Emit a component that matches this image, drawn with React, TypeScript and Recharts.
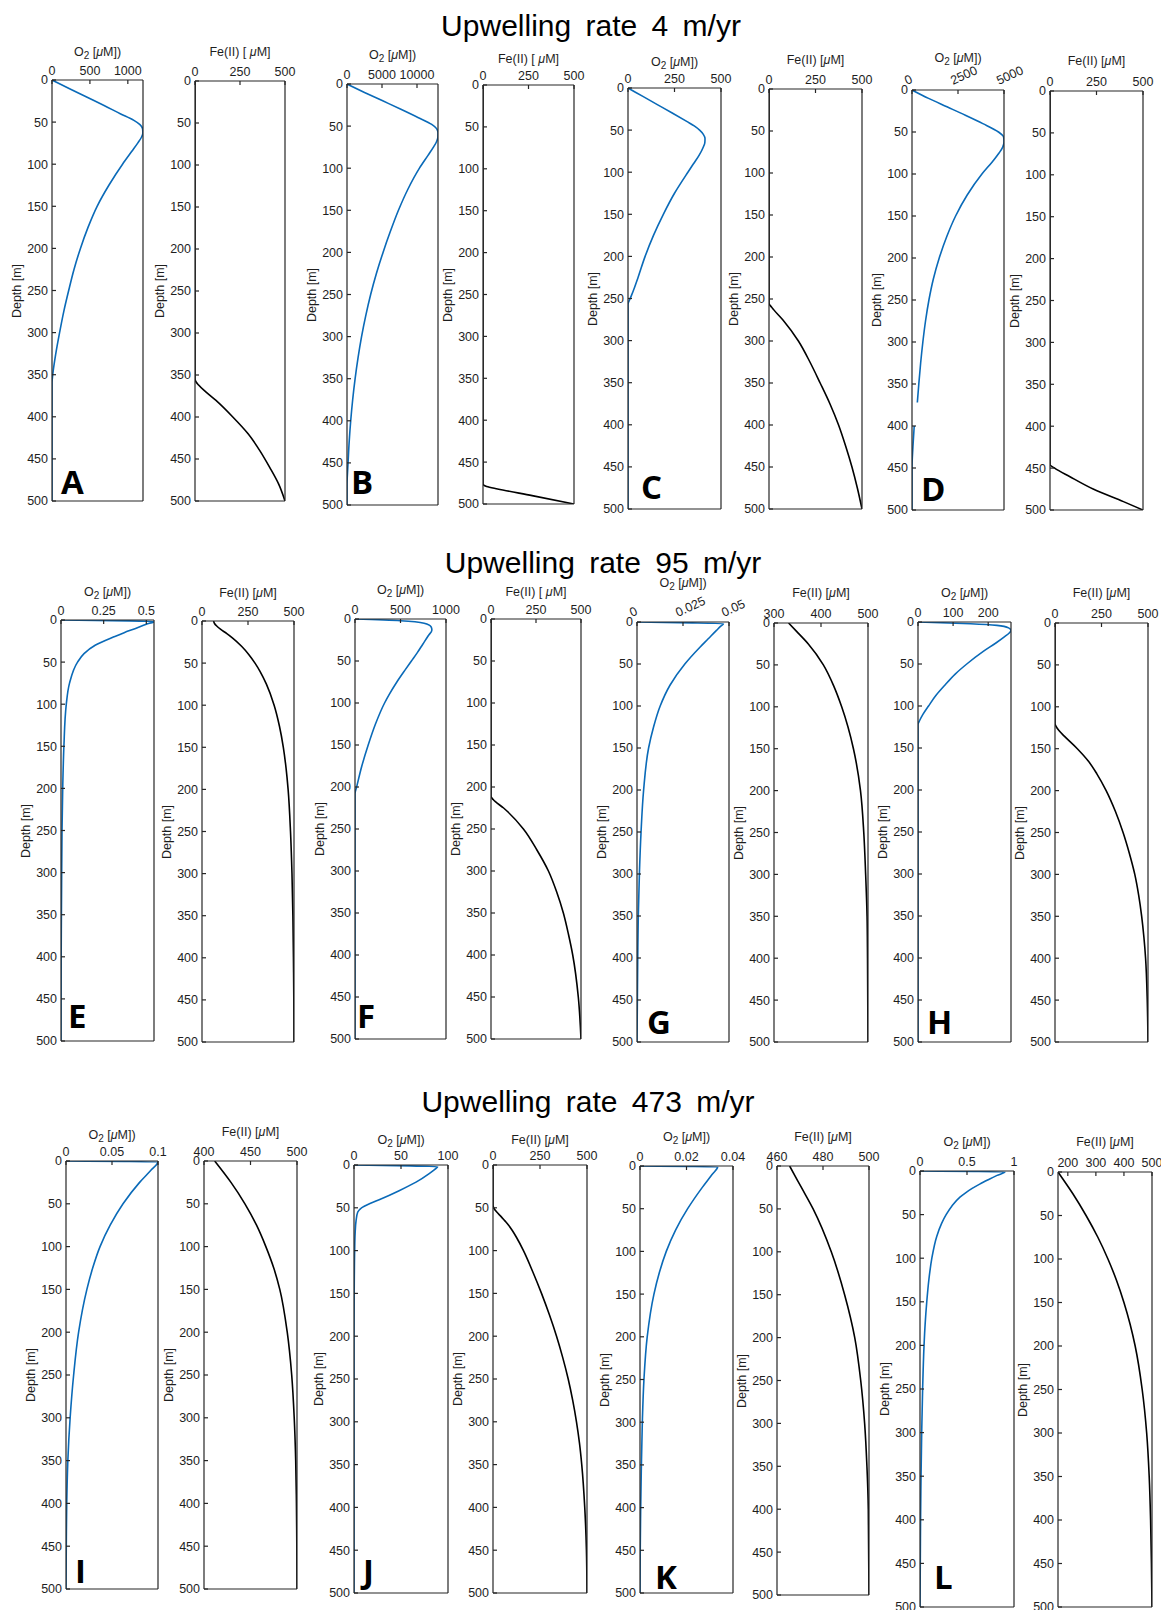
import React from "react";
import { LineChart, Line, XAxis, YAxis } from "recharts";

// ---------- data: [depth (m), concentration (µM)] ----------
const A_O2: [number, number][] = [[0,0],[10,225],[20,450],[30,680],[40,900],[48,1080],[53,1160],[58,1195],[63,1198],[68,1180],[75,1130],[85,1050],[100,930],[125,750],[150,595],[175,475],[200,375],[225,290],[250,220],[275,155],[300,100],[325,50],[350,10],[360,0],[500,0]];
const A_FE: [number, number][] = [[0,0],[355,0],[362,20],[370,60],[380,115],[400,210],[420,295],[440,360],[460,415],[480,465],[500,500]];
const B_O2: [number, number][] = [[0,0],[10,2500],[20,5100],[30,7700],[40,10200],[48,12100],[53,12800],[58,13000],[63,12990],[68,12820],[75,12350],[85,11550],[100,10350],[125,8700],[150,7350],[175,6200],[200,5150],[225,4200],[250,3380],[275,2680],[300,2080],[325,1580],[350,1160],[375,810],[400,530],[425,310],[450,150],[465,50],[475,0],[500,0]];
const B_FE: [number, number][] = [[0,0],[476,0],[479,20],[482,80],[490,270],[500,500]];
const C_O2: [number, number][] = [[0,0],[10,80],[20,160],[30,240],[40,318],[45,356],[50,385],[55,405],[60,414],[65,413],[70,405],[80,382],[90,352],[100,322],[125,250],[150,190],[175,137],[200,92],[225,54],[240,30],[250,12],[257,0],[500,0]];
const C_FE: [number, number][] = [[0,0],[255,0],[260,15],[275,75],[300,158],[325,220],[350,275],[375,328],[400,374],[425,412],[450,446],[475,475],[500,500]];
const D_O2: [number, number | null][] = [[0,0],[10,900],[20,1900],[30,2900],[40,3850],[50,4700],[56,4980],[62,5000],[68,4930],[75,4730],[85,4380],[100,3800],[125,3000],[150,2370],[175,1880],[200,1480],[225,1160],[250,920],[275,735],[300,590],[325,470],[350,370],[372,290],[386,null],[400,120],[425,50],[450,0],[500,0]];
const D_FE: [number, number][] = [[0,0],[446,0],[450,25],[460,105],[475,232],[490,395],[500,500]];

const E_O2: [number, number][] = [[0,0],[1,0.4],[2,0.545],[5,0.5],[10,0.437],[15,0.37],[20,0.31],[30,0.2],[40,0.135],[50,0.097],[75,0.05],[100,0.031],[150,0.017],[200,0.01],[250,0.006],[300,0.004],[400,0.001],[500,0]];
const E_FE: [number, number][] = [[0,63],[3,68],[6,80],[10,102],[15,135],[20,165],[30,215],[40,255],[50,288],[60,316],[75,350],[100,392],[125,421],[150,442],[175,457],[200,468],[250,481],[300,489],[350,494],[400,497],[450,499],[500,500]];
const F_O2: [number, number][] = [[0,0],[2,500],[5,760],[9,835],[13,845],[20,805],[30,745],[40,685],[50,620],[60,555],[75,460],[90,375],[100,325],[125,225],[150,145],[175,75],[200,18],[208,0],[500,0]];
const F_FE: [number, number][] = [[0,0],[211,0],[215,12],[225,70],[250,180],[275,255],[300,319],[325,365],[350,402],[375,430],[400,454],[450,485],[500,500]];
const G_O2: [number, number][] = [[0,0],[1,0.03],[2,0.047],[5,0.0455],[10,0.0432],[20,0.0387],[30,0.0342],[50,0.026],[75,0.018],[100,0.0126],[125,0.009],[150,0.0063],[200,0.0036],[250,0.0022],[300,0.0013],[350,0.0007],[400,0.0004],[500,0]];
const G_FE: [number, number][] = [[0,331],[10,348],[25,373],[50,405],[75,427],[100,444],[150,469],[200,484],[250,491],[300,495],[350,498],[400,499],[500,500]];
const H_O2: [number, number][] = [[0,0],[2,150],[4,225],[7,258],[10,265],[13,260],[18,245],[25,222],[35,186],[50,139],[62,106],[75,77],[87,52],[100,30],[110,14],[117,5],[122,0],[500,0]];
const H_FE: [number, number][] = [[0,0],[120,0],[123,5],[128,20],[135,50],[150,120],[165,180],[180,225],[200,275],[225,325],[250,366],[275,400],[300,429],[325,450],[350,466],[375,478],[400,487],[450,496],[500,500]];

const I_O2: [number, number][] = [[0,0],[1,0.1],[10,0.093],[25,0.08],[50,0.062],[75,0.048],[100,0.037],[125,0.029],[150,0.0227],[200,0.0137],[250,0.0083],[300,0.0045],[350,0.002],[400,0.0008],[450,0.0003],[500,0]];
const I_FE: [number, number][] = [[0,411.5],[25,429],[50,444],[75,456.5],[100,466.5],[125,475],[150,481.5],[200,489.5],[250,494.3],[300,497],[350,498.6],[400,499.4],[450,499.8],[500,500]];
const J_O2: [number, number][] = [[0,0],[1,60],[2,89],[5,86],[10,80],[20,66],[30,48],[40,28],[45,17],[50,8],[55,4],[65,2.2],[80,1.2],[100,0.7],[150,0.2],[200,0],[500,0]];
const J_FE: [number, number][] = [[0,0],[47,0],[50,4],[55,20],[60,42],[65,62],[70,82],[76,101],[85,126],[100,162],[125,212],[150,258],[175,300],[200,338],[225,371],[250,400],[275,424],[300,444],[325,460],[350,472],[400,488],[450,497],[500,500]];
const K_O2: [number, number][] = [[0,0],[1,0.0334],[10,0.031],[25,0.0268],[50,0.0205],[75,0.0153],[100,0.0113],[125,0.0083],[150,0.006],[200,0.0031],[250,0.0017],[300,0.001],[350,0.0006],[400,0.0003],[450,0.0001],[500,0]];
const K_FE: [number, number][] = [[0,465.5],[25,470.6],[50,475.7],[100,483.6],[150,489.4],[200,493.8],[250,496.4],[300,498.1],[350,499.1],[400,499.7],[500,500]];
const L_O2: [number, number][] = [[0,0],[1,0.904],[5,0.82],[10,0.725],[15,0.635],[20,0.555],[25,0.485],[30,0.425],[40,0.34],[50,0.278],[60,0.23],[75,0.178],[100,0.126],[125,0.094],[150,0.072],[175,0.055],[200,0.043],[250,0.028],[300,0.018],[350,0.011],[400,0.006],[450,0.003],[500,0]];
const L_FE: [number, number][] = [[0,165],[25,218],[50,265],[75,307],[100,343],[125,374],[150,400],[175,422],[200,440],[250,465],[300,481],[350,490],[400,495],[450,498],[500,500]];

// ---------- axes ----------
const DEPTH_TICKS = [0, 50, 100, 150, 200, 250, 300, 350, 400, 450, 500];
const TITLES = ["Upwelling rate 4 m/yr", "Upwelling rate 95 m/yr", "Upwelling rate 473 m/yr"];
const LETTERS = ["A", "B", "C", "D", "E", "F", "G", "H", "I", "J", "K", "L"];

type Kind = "o2" | "fe";
interface Series {
  data: [number, number | null][];
  kind: Kind;
  domain: [number, number];
  ticks: number[];
  feLabel?: string;
  rot?: boolean;
}

const SERIES: Series[] = [
  { data: A_O2, kind: "o2", domain: [0, 1200], ticks: [0, 500, 1000] },
  { data: A_FE, kind: "fe", domain: [0, 500], ticks: [0, 250, 500], feLabel: "Fe(II) [ " },
  { data: B_O2, kind: "o2", domain: [0, 13000], ticks: [0, 5000, 10000] },
  { data: B_FE, kind: "fe", domain: [0, 500], ticks: [0, 250, 500], feLabel: "Fe(II) [ " },
  { data: C_O2, kind: "o2", domain: [0, 500], ticks: [0, 250, 500] },
  { data: C_FE, kind: "fe", domain: [0, 500], ticks: [0, 250, 500] },
  { data: D_O2, kind: "o2", domain: [0, 5000], ticks: [0, 2500, 5000], rot: true },
  { data: D_FE, kind: "fe", domain: [0, 500], ticks: [0, 250, 500] },
  { data: E_O2, kind: "o2", domain: [0, 0.545], ticks: [0, 0.25, 0.5] },
  { data: E_FE, kind: "fe", domain: [0, 500], ticks: [0, 250, 500] },
  { data: F_O2, kind: "o2", domain: [0, 1000], ticks: [0, 500, 1000] },
  { data: F_FE, kind: "fe", domain: [0, 500], ticks: [0, 250, 500], feLabel: "Fe(II) [ " },
  { data: G_O2, kind: "o2", domain: [0, 0.05], ticks: [0, 0.025, 0.05], rot: true },
  { data: G_FE, kind: "fe", domain: [300, 500], ticks: [300, 400, 500] },
  { data: H_O2, kind: "o2", domain: [0, 265], ticks: [0, 100, 200] },
  { data: H_FE, kind: "fe", domain: [0, 500], ticks: [0, 250, 500] },
  { data: I_O2, kind: "o2", domain: [0, 0.1], ticks: [0, 0.05, 0.1] },
  { data: I_FE, kind: "fe", domain: [400, 500], ticks: [400, 450, 500] },
  { data: J_O2, kind: "o2", domain: [0, 100], ticks: [0, 50, 100] },
  { data: J_FE, kind: "fe", domain: [0, 500], ticks: [0, 250, 500] },
  { data: K_O2, kind: "o2", domain: [0, 0.04], ticks: [0, 0.02, 0.04] },
  { data: K_FE, kind: "fe", domain: [460, 500], ticks: [460, 480, 500] },
  { data: L_O2, kind: "o2", domain: [0, 1], ticks: [0, 0.5, 1] },
  { data: L_FE, kind: "fe", domain: [165, 500], ticks: [200, 300, 400, 500] },
];

// ---------- layout (plot box: left, top, right, bottom; label offset above plot) ----------
const BOXES: [number, number, number, number, number][] = [
  [52, 80, 143, 501, 28], [195, 81, 285, 501, 29], [347, 84, 438, 505, 29], [483, 85, 574, 504, 26],
  [628, 88, 721, 509, 26], [769, 89, 862, 509, 29], [912, 90, 1004, 510, 32], [1050, 91, 1143, 510, 30],
  [61, 620, 154, 1041, 28], [202, 621, 294, 1042, 28], [355, 619, 446, 1039, 29], [491, 619, 581, 1039, 27],
  [637, 622, 729, 1042, 39], [774, 623, 868, 1042, 30], [918, 622, 1011, 1042, 29], [1055, 623, 1148, 1042, 30],
  [66, 1161, 158, 1589, 26], [204, 1161, 297, 1589, 29], [354, 1165, 448, 1593, 25], [493, 1165, 587, 1593, 25],
  [640, 1166, 733, 1593, 29], [777, 1166, 869, 1595, 29], [920, 1171, 1014, 1607, 29], [1058, 1172, 1152, 1607, 30],
];
const LETTER_POS: [number, number][] = [
  [61, 493], [351, 493], [641, 498], [921, 500],
  [68, 1027], [357, 1027], [647, 1033], [927, 1033],
  [75, 1582], [363, 1582], [655, 1588], [934, 1588],
];
const TITLE_POS: [number, number][] = [[591, 36], [603, 573], [588, 1112]];

const FONT = "'Liberation Sans', Arial, Helvetica, sans-serif";
const AX = "#262626";
const TXT = "#1e1e1e";
const BLUE = "#0a6ab8";

const ML = 40, MT = 40, MR = 6, MB = 6, EXTRA_R = 16;

function RotTick(props: any) {
  const { x, y, payload } = props;
  const px = x - 5;
  return (
    <text x={px} y={y} transform={`rotate(-25 ${px} ${y})`} textAnchor="start" fontSize={12.5} fill={TXT} fontFamily={FONT}>
      {payload.value}
    </text>
  );
}

function Panel({ s, box }: { s: Series; box: [number, number, number, number, number] }) {
  const [l, t, r, b] = box;
  const w = r - l, h = b - t;
  const data = s.data.map(([d, v]) => ({ d, v }));
  const tickStyle = { fontSize: 12.5, fill: TXT, fontFamily: FONT };
  return (
    <div style={{ position: "absolute", left: l - ML, top: t - MT }}>
      <LineChart width={w + ML + MR + EXTRA_R} height={h + MT + MB} data={data} margin={{ top: 0, right: EXTRA_R, bottom: 0, left: 0 }}>
        <XAxis xAxisId="top" type="number" dataKey="v" orientation="top" domain={s.domain} ticks={s.ticks}
          allowDataOverflow height={MT} tickSize={-4} tickMargin={9} interval={0} stroke={AX} strokeWidth={1.2}
          tick={s.rot ? <RotTick /> : tickStyle} />
        <XAxis xAxisId="bot" type="number" orientation="bottom" domain={s.domain} ticks={s.ticks}
          allowDataOverflow height={MB} tickSize={-4} interval={0} stroke={AX} strokeWidth={1.2} tick={false} />
        <YAxis yAxisId="left" type="number" domain={[0, 500]} ticks={DEPTH_TICKS} reversed allowDataOverflow
          width={ML} tickSize={-4} tickMargin={8} interval={0} stroke={AX} strokeWidth={1.2} tick={tickStyle} />
        <YAxis yAxisId="right" orientation="right" type="number" domain={[0, 500]} ticks={DEPTH_TICKS} reversed
          allowDataOverflow width={MR} tickSize={-4} interval={0} stroke={AX} strokeWidth={1.2} tick={false} />
        <Line xAxisId="top" yAxisId="left" dataKey="d" type="monotoneY" stroke={s.kind === "o2" ? BLUE : "#000"}
          strokeWidth={1.6} dot={false} activeDot={false} isAnimationActive={false} connectNulls={false} />
      </LineChart>
    </div>
  );
}

function TopLabel({ s, box }: { s: Series; box: [number, number, number, number, number] }) {
  const [l, t, r, , off] = box;
  const style: React.CSSProperties = {
    position: "absolute", left: (l + r) / 2, top: t - off, transform: "translate(-50%, -50%)",
    fontSize: 12.5, color: TXT, whiteSpace: "nowrap", lineHeight: 1, fontFamily: FONT,
  };
  if (s.kind === "o2") {
    return (
      <div style={style}>
        O<sub style={{ fontSize: "0.8em", verticalAlign: "-0.35em", lineHeight: 0 }}>2</sub> [<i>μ</i>M])
      </div>
    );
  }
  return <div style={style}>{s.feLabel ?? "Fe(II) ["}<i>μ</i>M]</div>;
}

function DepthLabel({ box }: { box: [number, number, number, number, number] }) {
  const [l, t, , b] = box;
  return (
    <div style={{
      position: "absolute", left: l - 35, top: (t + b) / 2, transform: "translate(-50%, -50%) rotate(-90deg)",
      fontSize: 12.5, color: TXT, whiteSpace: "nowrap", lineHeight: 1, fontFamily: FONT,
    }}>Depth [m]</div>
  );
}

export default function App() {
  return (
    <div style={{ position: "absolute", left: 0, top: 0, width: 1161, height: 1610, background: "#fff", fontFamily: FONT, overflow: "hidden" }}>
      {TITLES.map((tt, i) => (
        <div key={tt} style={{
          position: "absolute", left: TITLE_POS[i][0], top: TITLE_POS[i][1] - 25.4, transform: "translateX(-50%)",
          fontSize: 30, lineHeight: "30px", whiteSpace: "nowrap", color: "#000", wordSpacing: 6,
        }}>{tt}</div>
      ))}
      {SERIES.map((s, i) => (
        <React.Fragment key={i}>
          <Panel s={s} box={BOXES[i]} />
          <TopLabel s={s} box={BOXES[i]} />
          <DepthLabel box={BOXES[i]} />
        </React.Fragment>
      ))}
      {LETTERS.map((L, i) => (
        <div key={L} style={{
          position: "absolute", left: LETTER_POS[i][0], top: LETTER_POS[i][1] - 28, fontSize: 33, lineHeight: "33px",
          fontWeight: 700, color: "#000", fontFamily: "'Open Sans', 'Liberation Sans', Arial, sans-serif",
        }}>{L}</div>
      ))}
    </div>
  );
}
